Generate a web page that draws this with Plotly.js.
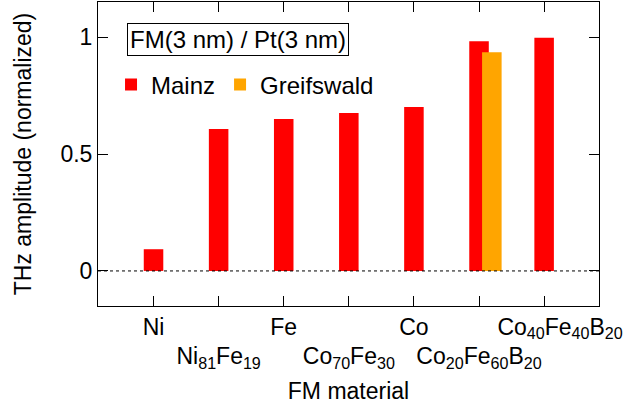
<!DOCTYPE html>
<html>
<head>
<meta charset="utf-8">
<script src="https://cdn.plot.ly/plotly-3.0.1.min.js"></script>
<style>html,body{margin:0;padding:0;background:#fff;}#plot{width:628px;height:412px;}</style>
</head>
<body>
<div id="plot"></div>
<script>
// Categories (FM materials)
const categories = ['Ni', 'Ni81Fe19', 'Fe', 'Co70Fe30', 'Co', 'Co20Fe60B20', 'Co40Fe40B20'];
// Mainz values (normalized THz amplitude)
const mainzValues = [0.093, 0.608, 0.650, 0.676, 0.702, 0.983, 0.998];
// Greifswald values
const greifswaldCategories = ['Co20Fe60B20'];
const greifswaldValues = [0.936];
// Tick labels: upper row (even categories) and lower row (odd categories)
const upperTickText = ['Ni', '', 'Fe', '', 'Co', '',
  '\u00a0\u00a0\u00a0\u00a0\u00a0Co<sub>40</sub>Fe<sub>40</sub>B<sub>20</sub>'];
const lowerTickPositions = [1, 3, 5];
const lowerTickText = ['Ni<sub>81</sub>Fe<sub>19</sub>', 'Co<sub>70</sub>Fe<sub>30</sub>', 'Co<sub>20</sub>Fe<sub>60</sub>B<sub>20</sub>'];
const yTickVals = [0, 0.5, 1];
const yTickText = ['0', '0.5', '1'];

const FONT = 'Liberation Sans, Arial, sans-serif';
const xr = [-0.853, 6.843];

const traces = [
  {type: 'bar', name: 'Mainz', x: categories, y: mainzValues, width: 0.3,
   marker: {color: '#ff0000'}, xaxis: 'x', yaxis: 'y'},
  {type: 'bar', name: 'Greifswald', x: greifswaldCategories, y: greifswaldValues, width: 0.3, offset: 0.047,
   marker: {color: '#ffa500'}, xaxis: 'x', yaxis: 'y'},
  {type: 'scatter', x: [], y: [], xaxis: 'x2', yaxis: 'y', showlegend: false, hoverinfo: 'skip'}
];

const layout = {
  width: 628, height: 412,
  margin: {l: 98, r: 29, t: 2, b: 106},
  paper_bgcolor: '#fff', plot_bgcolor: '#fff',
  font: {family: FONT, size: 23, color: '#000'},
  barmode: 'overlay',
  showlegend: true,
  legend: {orientation: 'h', x: 0.026, xanchor: 'left', y: 0.727, yanchor: 'middle',
           bgcolor: 'rgba(0,0,0,0)', font: {family: FONT, size: 24, color: '#000'},
           traceorder: 'normal', itemwidth: 30},
  xaxis: {type: 'category', range: xr, tickmode: 'array', tickvals: categories, ticktext: upperTickText,
          ticks: 'inside', ticklen: 10, tickcolor: '#000', tickwidth: 1,
          showline: true, linecolor: '#000', linewidth: 1, mirror: 'ticks',
          showgrid: false, zeroline: false, fixedrange: true,
          tickfont: {family: FONT, size: 23, color: '#000'},
          title: {text: 'FM material', font: {family: FONT, size: 23, color: '#000'}, standoff: 41}},
  xaxis2: {type: 'linear', overlaying: 'x', anchor: 'y', side: 'bottom', range: xr,
           tickmode: 'array', tickvals: lowerTickPositions, ticktext: lowerTickText,
           ticks: '', showline: false, showgrid: false, zeroline: false,
           ticklabelstandoff: 34,
           tickfont: {family: FONT, size: 23, color: '#000'}},
  yaxis: {range: [-0.15, 1.151], tickmode: 'array', tickvals: yTickVals, ticktext: yTickText,
          ticks: 'inside', ticklen: 10, tickcolor: '#000', tickwidth: 1,
          showline: true, linecolor: '#000', linewidth: 1, mirror: 'ticks',
          showgrid: false, zeroline: false,
          tickfont: {family: FONT, size: 23, color: '#000'},
          title: {text: 'THz amplitude (normalized)', font: {family: FONT, size: 23, color: '#000'}, standoff: 22}},
  shapes: [{type: 'line', xref: 'paper', x0: 0, x1: 1, yref: 'y', y0: 0, y1: 0,
            line: {color: '#000', width: 1, dash: 'dot'}, layer: 'above'}],
  annotations: [{text: 'FM(3 nm) / Pt(3 nm)', xref: 'paper', yref: 'paper', x: 0.2794, y: 0.8766,
                 xanchor: 'center', yanchor: 'middle', showarrow: false,
                 bordercolor: '#000', borderwidth: 1, borderpad: 2, bgcolor: '#fff',
                 font: {family: FONT, size: 24, color: '#000'}}]
};

Plotly.newPlot('plot', traces, layout, {staticPlot: true, displayModeBar: false});
</script>
</body>
</html>
